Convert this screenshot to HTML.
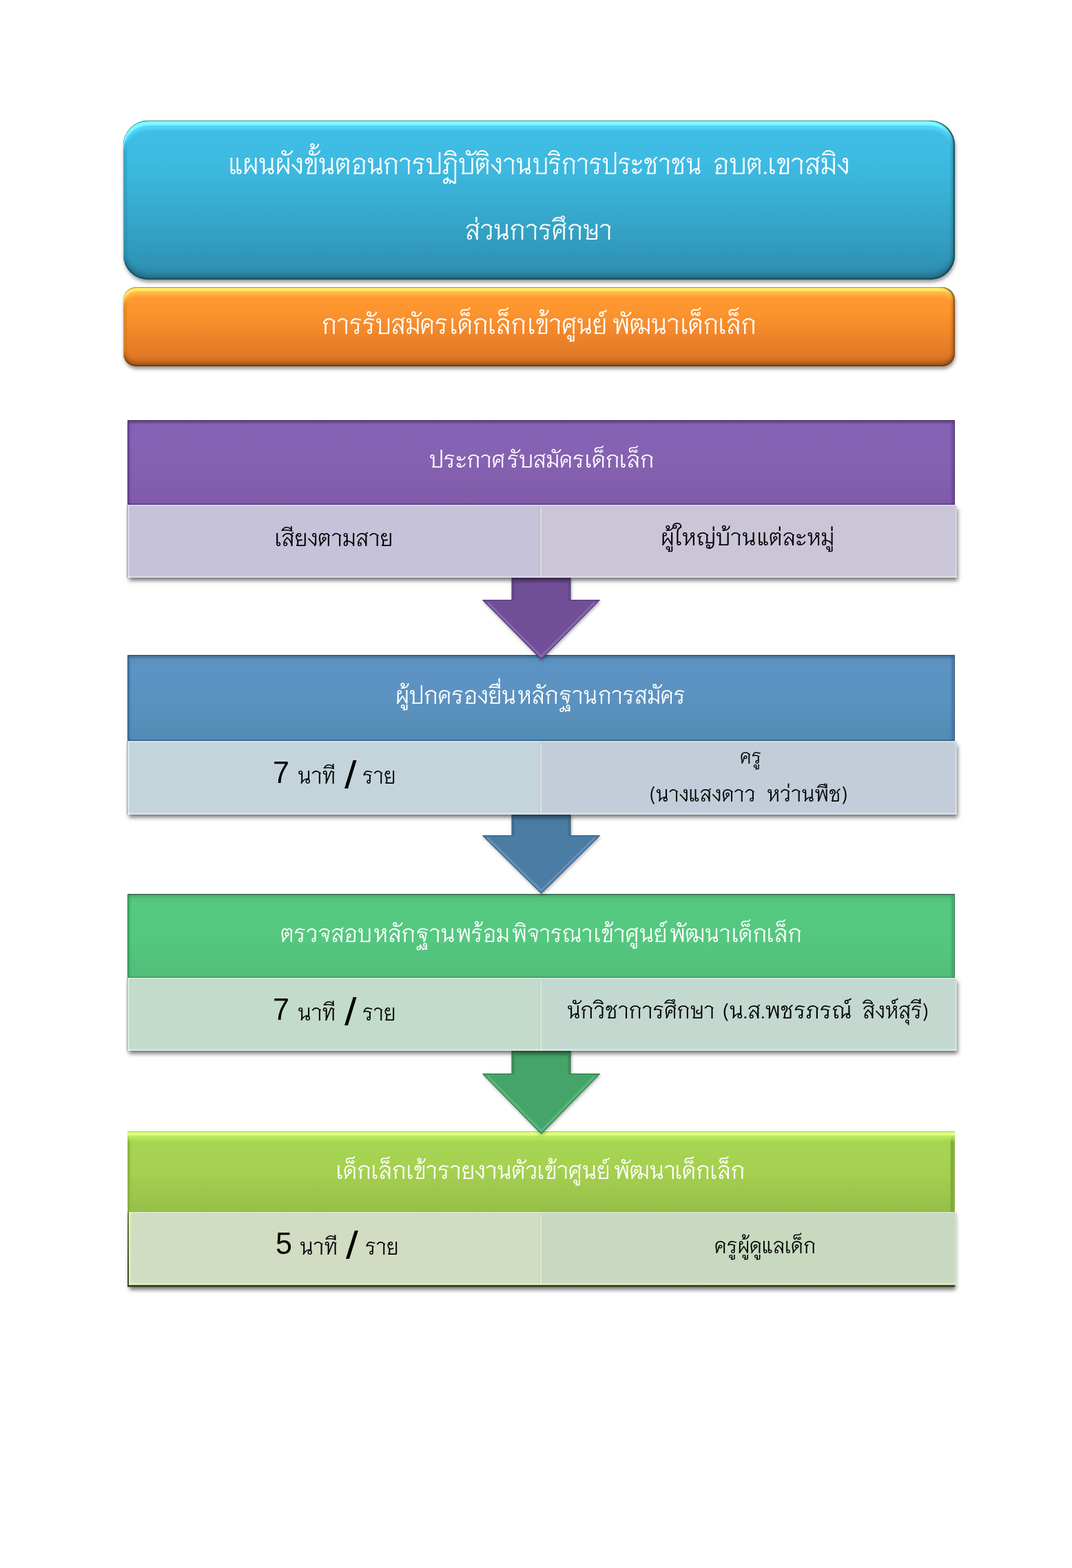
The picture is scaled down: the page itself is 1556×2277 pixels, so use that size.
<!DOCTYPE html>
<html lang="th">
<head>
<meta charset="utf-8">
<title>แผนผังขั้นตอนการปฏิบัติงานบริการประชาชน อบต.เขาสมิง ส่วนการศึกษา</title>
<style>
html,body{margin:0;padding:0;background:#fff;}
html{width:1556px;height:2277px;}
body{width:1556px;height:2277px;position:relative;overflow:hidden;
  font-family:"Liberation Sans","Niramit","Sarabun","Loma","Noto Sans Thai",sans-serif;}
.abs{position:absolute;}
.t{position:absolute;white-space:pre;line-height:1;transform-origin:0 0;margin:0;padding:0;}
.line{position:absolute;left:0;top:0;width:0;height:0;font-size:0;line-height:0;color:transparent;white-space:pre;}
.th{font-family:"Niramit","Sarabun","Noto Sans Thai Looped","Noto Sans Thai","Loma","Liberation Sans",sans-serif;}
.la{font-family:"Liberation Sans","Niramit",sans-serif;}
.w{color:#fff;}
.k{color:#000;}
#title{left:179px;top:175px;width:1207px;height:231px;border-radius:36px;
  background:linear-gradient(180deg,#40bee6 0%,#3ebbe2 25%,#37abcf 55%,#3097b9 85%,#2e8dac 100%);
  box-shadow:1px 4px 5px rgba(0,0,0,.4),
    inset -2px 0 1px rgba(20,60,80,.7),
    inset -6px 0 5px -3px rgba(20,70,90,.6),
    inset 0 1px 0 rgba(70,130,150,.8),
    inset 0 7px 2px rgba(127,255,255,.95),
    inset 0 13px 4px rgba(85,216,255,.85),
    inset 0 -2px 1px rgba(25,70,90,.8),
    inset 0 -10px 8px -3px rgba(20,70,90,.5),
    inset 1px 0 0 rgba(30,110,140,.6),
    inset 5px 0 5px -3px rgba(20,90,120,.5);}
#sub{left:179px;top:417px;width:1207px;height:115px;border-radius:19px;
  background:linear-gradient(180deg,#ff9a30 0%,#fd952e 30%,#f0852a 60%,#e17a26 85%,#cf7227 100%);
  box-shadow:1px 4px 5px rgba(0,0,0,.4),
    inset -2px 0 1px rgba(120,60,10,.6),
    inset -6px 0 5px -3px rgba(120,60,10,.6),
    inset 0 1px 0 rgba(215,130,60,.9),
    inset 0 6px 2px rgba(255,236,105,.95),
    inset 0 12px 4px rgba(255,190,70,.85),
    inset 0 -2px 1px rgba(110,55,15,.8),
    inset 0 -9px 7px -3px rgba(110,50,10,.5),
    inset 1px 0 0 rgba(190,100,20,.6),
    inset 5px 0 5px -3px rgba(150,80,10,.5);}
.hd{left:185px;width:1201px;}
.row{left:184px;width:1205px;box-shadow:2px 5px 6px -1px rgba(0,0,0,.55);}
.row:before{content:"";position:absolute;left:0;top:0;right:0;bottom:0;
  box-shadow:inset 1px 0 0 rgba(0,0,0,.28), inset 4px 0 0 rgba(255,255,255,.3), inset 0 2px 0 rgba(255,255,255,.3), inset 0 -3px 0 rgba(255,255,255,.3), inset -3px 0 0 rgba(255,255,255,.2);}
.row.r4{left:187px;width:1202px;box-shadow:none;}
.row.r4:before{box-shadow:inset 3px 0 0 rgba(240,255,200,.45), inset 0 2px 0 rgba(255,255,255,.25), inset 0 -3px 0 rgba(240,255,200,.4), inset -3px 0 0 rgba(255,255,255,.2);}
.row.r4:after{left:596px;}
.row:after{content:"";position:absolute;left:599px;top:4px;bottom:0;width:3px;
  background:linear-gradient(90deg,rgba(0,0,0,.08) 0,rgba(0,0,0,.08) 1px,rgba(255,255,255,.4) 1px);}
</style>
</head>
<body>
<div id="title" class="abs"></div>
<div id="sub" class="abs"></div>
<div class="abs hd" style="top:610px;height:123px;background:linear-gradient(180deg,#8260ae 0,#8562b4 12%,#8661b1 50%,#7f5ba8 100%);box-shadow:inset 0 2px 0 #513e70, inset 0 5px 0 rgba(80,50,110,.35), inset 1px 0 0 #3d2f5e, inset 6px 0 2px -2px rgba(90,50,150,.45), inset -1px 0 0 #4b3a68, inset -7px 0 2px -2px rgba(90,50,150,.45), inset 0 -2px 0 rgba(70,45,110,.5);"></div>
<div class="abs hd" style="top:951px;height:125px;background:linear-gradient(180deg,#588dbb 0,#5c93c4 12%,#5b92c0 50%,#548bb4 100%);box-shadow:inset 0 2px 0 #3f5e7a, inset 0 5px 0 rgba(40,80,110,.3), inset 1px 0 0 #2c4a63, inset 6px 0 2px -2px rgba(40,100,160,.45), inset -1px 0 0 #3a5870, inset -7px 0 2px -2px rgba(40,100,160,.45), inset 0 -2px 0 rgba(40,80,120,.5);"></div>
<div class="abs hd" style="top:1298px;height:122px;background:linear-gradient(180deg,#52bd78 0,#55c97f 12%,#55c880 50%,#51bd79 100%);box-shadow:inset 0 2px 0 #477a5c, inset 0 5px 0 rgba(60,150,90,.3), inset 1px 0 0 #2b6a45, inset 6px 0 2px -2px rgba(40,160,90,.5), inset -1px 0 0 #3f7a58, inset -7px 0 2px -2px rgba(40,160,90,.5), inset 0 -2px 0 rgba(50,150,100,.5);"></div>
<div class="abs hd" style="top:1643px;height:117px;background:linear-gradient(180deg,#a7d552 0,#a7d552 12%,#a5d050 50%,#97bf49 100%);box-shadow:inset 0 1px 0 rgba(150,180,90,.8), inset 0 6px 2px rgba(226,255,130,.95), inset 0 12px 4px rgba(185,235,95,.85), inset 2px 0 0 #6f8c38, inset 6px 0 2px -2px rgba(120,180,40,.6), inset -1px 0 0 #4c632a, inset -6px 0 0 rgba(110,150,50,.45), inset -8px 0 2px -2px rgba(120,170,50,.6);"></div>
<svg class="abs" style="left:0;top:0;" width="1556" height="2277" viewBox="0 0 1556 2277">
<g style="filter:drop-shadow(1px 2px 2px rgba(0,0,0,.32))"><polygon points="743,839 828,839 828,871.5 870.5,871.5 785.5,957.5 700.5,871.5 743,871.5" fill="#714f97" stroke="#4f3870" stroke-width="1" stroke-linejoin="miter"/></g>
<path d="M707.5,874.5 L785.5,953.0 L863.5,874.5" fill="none" stroke="#9674c4" stroke-opacity=".6" stroke-width="3"/>
<path d="M745.5,845 V872.0 M825.5,845 V872.0" fill="none" stroke="#4f3870" stroke-opacity=".3" stroke-width="3"/>
<g style="filter:drop-shadow(1px 2px 2px rgba(0,0,0,.32))"><polygon points="743,1183 828,1183 828,1213.5 870.5,1213.5 785.5,1297.5 700.5,1213.5 743,1213.5" fill="#4b7ca3" stroke="#335672" stroke-width="1" stroke-linejoin="miter"/></g>
<path d="M707.5,1216.5 L785.5,1293.0 L863.5,1216.5" fill="none" stroke="#6fa0cb" stroke-opacity=".6" stroke-width="3"/>
<path d="M745.5,1189 V1214.0 M825.5,1189 V1214.0" fill="none" stroke="#335672" stroke-opacity=".3" stroke-width="3"/>
<g style="filter:drop-shadow(1px 2px 2px rgba(0,0,0,.32))"><polygon points="743,1526 828,1526 828,1559.5 870.5,1559.5 785.5,1646.5 700.5,1559.5 743,1559.5" fill="#45a468" stroke="#2c6b45" stroke-width="1" stroke-linejoin="miter"/></g>
<path d="M707.5,1562.5 L785.5,1642.0 L863.5,1562.5" fill="none" stroke="#66c48c" stroke-opacity=".6" stroke-width="3"/>
<path d="M745.5,1532 V1560.0 M825.5,1532 V1560.0" fill="none" stroke="#2c6b45" stroke-opacity=".3" stroke-width="3"/>
</svg>
<div class="abs row" style="top:733px;height:106px;background:linear-gradient(90deg,#c6c2d9 0,#c6c2d9 601px,#cbc5d8 601px);"></div>
<div class="abs row" style="top:1076px;height:107px;background:linear-gradient(90deg,#c3d5da 0,#c3d5da 601px,#c3cdd9 601px);"></div>
<div class="abs row" style="top:1420px;height:106px;background:linear-gradient(90deg,#c2dbca 0,#c2dbca 601px,#c3d9d0 601px);"></div>
<div class="abs" style="left:185px;top:1760px;width:1201px;height:109px;background:linear-gradient(180deg,#6a813a 0,#55682e 35%,#3f4c25 80%,#3a4622 100%);box-shadow:2px 5px 6px -1px rgba(0,0,0,.55);"></div>
<div class="abs row r4" style="top:1760px;height:106px;background:linear-gradient(90deg,#d2dcc2 0,#d2dcc2 598px,#c9d9c0 598px);"></div>
<div class="line" id="t1"><span class="t th w" style="left:332.2px;top:216.1px;font-size:39px;font-weight:300;transform:scaleX(0.9544);">แผนผังขั้นตอน</span><span class="t th w" style="left:556.0px;top:216.1px;font-size:39px;font-weight:300;transform:scaleX(0.9205);">การปฏิบัติงาน</span><span class="t th w" style="left:772.9px;top:216.1px;font-size:39px;font-weight:300;transform:scaleX(0.8775);">บริการประชาชน</span>  <span class="t th w" style="left:1035.0px;top:216.1px;font-size:39px;font-weight:300;transform:scaleX(0.9675);">อบต.เขาสมิง</span></div>
<div class="line" id="t2"><span class="t th w" style="left:674.6px;top:312.1px;font-size:38.5px;font-weight:300;transform:scaleX(0.9248);">ส่วนการศึกษา</span></div>
<div class="line" id="t3"><span class="t th w" style="left:466.9px;top:449.5px;font-size:37.5px;font-weight:300;transform:scaleX(0.9098);">การรับสมัคร</span><span class="t th w" style="left:653.4px;top:449.5px;font-size:37.5px;font-weight:300;transform:scaleX(0.9411);">เด็กเล็ก</span><span class="t th w" style="left:765.5px;top:449.5px;font-size:37.5px;font-weight:300;transform:scaleX(0.9331);">เข้าศูนย์</span><span class="t th w" style="left:888.8px;top:449.5px;font-size:37.5px;font-weight:300;transform:scaleX(0.9339);">พัฒนา</span><span class="t th w" style="left:988.2px;top:449.5px;font-size:37.5px;font-weight:300;transform:scaleX(0.9305);">เด็กเล็ก</span></div>
<div class="line" id="h1"><span class="t th w" style="left:623.4px;top:649.3px;font-size:32px;font-weight:300;transform:scaleX(0.9724);">ประกาศ</span><span class="t th w" style="left:735.8px;top:649.3px;font-size:32px;font-weight:300;transform:scaleX(0.9632);">รับสมัคร</span><span class="t th w" style="left:848.9px;top:649.3px;font-size:32px;font-weight:300;transform:scaleX(0.9992);">เด็กเล็ก</span></div>
<div class="line" id="a1"><span class="t th k" style="left:399.4px;top:762.6px;font-size:31.5px;font-weight:300;transform:scaleX(0.9791);">เสียงตามสาย</span></div>
<div class="line" id="b1"><span class="t th k" style="left:958.9px;top:762.3px;font-size:31.5px;font-weight:300;transform:scaleX(1.0072);">ผู้ใหญ่บ้าน</span><span class="t th k" style="left:1098.8px;top:762.3px;font-size:31.5px;font-weight:300;transform:scaleX(0.9866);">แต่ละหมู่</span></div>
<div class="line" id="h2"><span class="t th w" style="left:574.0px;top:991.0px;font-size:32.5px;font-weight:300;transform:scaleX(0.9860);">ผู้ปกครองยื่น</span><span class="t th w" style="left:751.2px;top:991.0px;font-size:32.5px;font-weight:300;transform:scaleX(0.9630);">หลักฐาน</span><span class="t th w" style="left:868.0px;top:991.0px;font-size:32.5px;font-weight:300;transform:scaleX(0.9429);">การสมัคร</span></div>
<div class="line" id="a2"><span class="t la k" style="left:396.2px;top:1101.2px;font-size:43.5px;font-weight:400;transform:scaleX(0.9895);">7</span> <span class="t th k" style="left:431.8px;top:1108.9px;font-size:30.5px;font-weight:300;transform:scaleX(0.9874);">นาที</span> <span class="t la k" style="left:499.5px;top:1097.7px;font-size:43.5px;font-weight:400;transform:scale(1.4532,1.2730);">/</span> <span class="t th k" style="left:526.4px;top:1108.9px;font-size:30.5px;font-weight:300;transform:scaleX(0.9350);">ราย</span></div>
<div class="line" id="b2a"><span class="t th k" style="left:1074.1px;top:1081.8px;font-size:28px;font-weight:300;transform:scaleX(0.9575);">ครู</span></div>
<div class="line" id="b2b"><span class="t th k" style="left:942.6px;top:1136.0px;font-size:30px;font-weight:300;transform:scaleX(0.9553);">(นางแสงดาว</span>  <span class="t th k" style="left:1113.1px;top:1136.0px;font-size:30px;font-weight:300;transform:scaleX(0.9673);">หว่านพืช)</span></div>
<div class="line" id="h3"><span class="t th w" style="left:407.2px;top:1337.2px;font-size:33px;font-weight:300;transform:scaleX(0.9460);">ตรวจสอบ</span><span class="t th w" style="left:541.8px;top:1337.2px;font-size:33px;font-weight:300;transform:scaleX(0.9693);">หลักฐาน</span><span class="t th w" style="left:662.3px;top:1337.2px;font-size:33px;font-weight:300;transform:scaleX(0.9363);">พร้อม</span><span class="t th w" style="left:742.5px;top:1337.2px;font-size:33px;font-weight:300;transform:scaleX(0.9192);">พิจารณา</span><span class="t th w" style="left:861.9px;top:1337.2px;font-size:33px;font-weight:300;transform:scaleX(0.9822);">เข้าศูนย์</span><span class="t th w" style="left:971.9px;top:1337.2px;font-size:33px;font-weight:300;transform:scaleX(0.9664);">พัฒนา</span><span class="t th w" style="left:1061.9px;top:1337.2px;font-size:33px;font-weight:300;transform:scaleX(0.9840);">เด็กเล็ก</span></div>
<div class="line" id="a3"><span class="t la k" style="left:396.2px;top:1445.2px;font-size:43.5px;font-weight:400;transform:scaleX(0.9895);">7</span> <span class="t th k" style="left:431.8px;top:1452.9px;font-size:30.5px;font-weight:300;transform:scaleX(0.9874);">นาที</span> <span class="t la k" style="left:499.5px;top:1441.7px;font-size:43.5px;font-weight:400;transform:scale(1.4532,1.2730);">/</span> <span class="t th k" style="left:526.4px;top:1452.9px;font-size:30.5px;font-weight:300;transform:scaleX(0.9350);">ราย</span></div>
<div class="line" id="b3"><span class="t th k" style="left:823.2px;top:1450.4px;font-size:30.5px;font-weight:300;transform:scaleX(0.9775);">นักวิชาการศึกษา</span> <span class="t th k" style="left:1048.6px;top:1450.4px;font-size:30.5px;font-weight:300;transform:scaleX(1.0205);">(น.ส.พชรภรณ์</span>  <span class="t th k" style="left:1251.9px;top:1450.4px;font-size:30.5px;font-weight:300;transform:scaleX(0.9681);">สิงห์สุรี)</span></div>
<div class="line" id="h4"><span class="t th w" style="left:487.7px;top:1681.3px;font-size:33px;font-weight:300;transform:scaleX(0.9810);">เด็กเล็ก</span><span class="t th w" style="left:590.4px;top:1681.3px;font-size:33px;font-weight:300;transform:scaleX(0.9688);">เข้ารายงานตัว</span><span class="t th w" style="left:779.8px;top:1681.3px;font-size:33px;font-weight:300;transform:scaleX(0.9718);">เข้าศูนย์</span><span class="t th w" style="left:891.3px;top:1681.3px;font-size:33px;font-weight:300;transform:scaleX(0.9777);">พัฒนา</span><span class="t th w" style="left:979.9px;top:1681.3px;font-size:33px;font-weight:300;transform:scaleX(0.9759);">เด็กเล็ก</span></div>
<div class="line" id="a4"><span class="t la k" style="left:399.5px;top:1784.8px;font-size:43.5px;font-weight:400;transform:scaleX(0.9921);">5</span> <span class="t th k" style="left:435.1px;top:1792.5px;font-size:30.5px;font-weight:300;transform:scaleX(0.9836);">นาที</span> <span class="t la k" style="left:502.0px;top:1781.3px;font-size:43.5px;font-weight:400;transform:scale(1.4778,1.2730);">/</span> <span class="t th k" style="left:529.6px;top:1792.5px;font-size:30.5px;font-weight:300;transform:scaleX(0.9350);">ราย</span></div>
<div class="line" id="b4"><span class="t th k" style="left:1036.5px;top:1792.4px;font-size:29.5px;font-weight:300;transform:scaleX(0.9669);">ครูผู้ดูแลเด็ก</span></div>
</body>
</html>
